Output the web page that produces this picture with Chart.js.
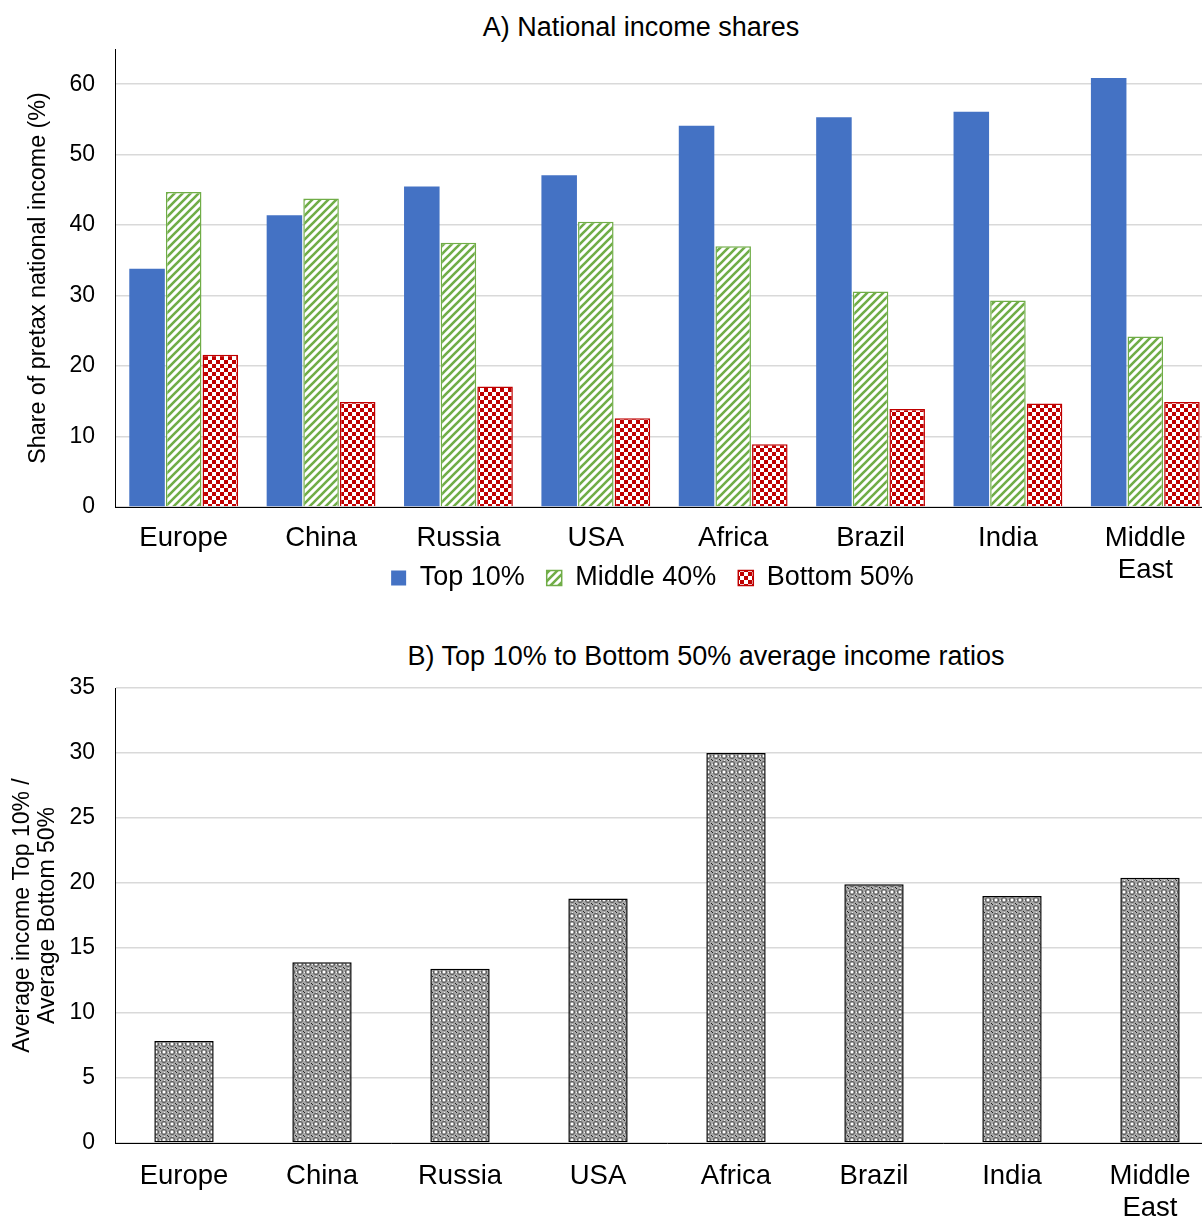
<!DOCTYPE html>
<html>
<head>
<meta charset="utf-8">
<script src="https://cdn.jsdelivr.net/npm/chart.js@4.4.0/dist/chart.umd.js"></script>
<style>
    html, body { margin: 0; padding: 0; background: #fff; }
    body { width: 1202px; height: 1217px; position: relative; overflow: hidden; font-family: "Liberation Sans", Arial, sans-serif; }
    .title { position: absolute; font-size: 27px; color: #000; white-space: nowrap; transform: translate(-50%, -50%); }
    canvas { position: absolute; left: 0; }
</style>
</head>
<body>
<div class="title" style="left:641px; top:27px;">A) National income shares</div>
<div class="title" style="left:706px; top:656px;">B) Top 10% to Bottom 50% average income ratios</div>
<!-- the original figure is cropped on the right, so the plots run a little past the page edge -->
<canvas id="chart-shares" width="1214" height="648" style="top:0;"></canvas>
<canvas id="chart-ratios" width="1219" height="617" style="top:600px;"></canvas>
<script>
// Data
const regions = ['Europe', 'China', 'Russia', 'USA', 'Africa', 'Brazil', 'India', ['Middle', 'East']];
const top10 = [33.8, 41.4, 45.5, 47.1, 54.1, 55.3, 56.1, 60.9];
const middle40 = [44.7, 43.8, 37.5, 40.5, 37.0, 30.6, 29.3, 24.2];
const bottom50 = [21.6, 14.9, 17.1, 12.6, 8.9, 13.9, 14.7, 14.9];
const ratios = [7.85, 13.9, 13.4, 18.8, 30.0, 19.9, 19.0, 20.4];

const FONT = '"Liberation Sans", Arial, sans-serif';
const GRID = '#d9d9d9';

// Pattern helpers (8px tiles, like Excel fill patterns)
function makePattern(draw) {
    const c = document.createElement('canvas');
    c.width = 8;
    c.height = 8;
    const g = c.getContext('2d');
    draw(g);
    return g.createPattern(c, 'repeat');
}

const stripeGreen = makePattern(g => {
    g.fillStyle = '#fff';
    g.fillRect(0, 0, 8, 8);
    g.strokeStyle = '#70ad47';
    g.lineWidth = 2.6;
    g.beginPath();
    g.moveTo(-2, 2); g.lineTo(2, -2);
    g.moveTo(0, 8); g.lineTo(8, 0);
    g.moveTo(6, 10); g.lineTo(10, 6);
    g.stroke();
});

const checkRed = makePattern(g => {
    g.fillStyle = '#fff';
    g.fillRect(0, 0, 8, 8);
    g.fillStyle = '#c00000';
    g.fillRect(0, 0, 4, 4);
    g.fillRect(4, 4, 4, 4);
});

const sphereGray = makePattern(g => {
    g.fillStyle = '#a8a8a8';
    g.fillRect(0, 0, 8, 8);
    g.strokeStyle = '#5a5a5a';
    g.lineWidth = 1;
    g.beginPath();
    g.arc(4, 4, 2.6, 0, Math.PI * 2);
    g.stroke();
    g.fillStyle = '#fff';
    g.fillRect(3, 3, 2, 2);
    g.fillStyle = '#222';
    g.fillRect(0, 0, 1, 1);
    g.fillRect(7, 7, 1, 1);
    g.fillStyle = '#eee';
    g.fillRect(0, 4, 1, 1);
    g.fillRect(4, 0, 1, 1);
});

// Legend sits up beside the second line of "Middle East", so move it after layout
const LEGEND_PAD = 22;
const LEGEND_FONT = 27;
const legendShift = {
    id: 'legendShift',
    afterLayout(chart) {
        const lg = chart.legend;
        if (!lg) return;
        const h = lg.bottom - lg.top;
        lg.top = 578 - LEGEND_PAD - LEGEND_FONT / 2;
        lg.bottom = lg.top + h;
        lg.left -= 12;
        lg.right -= 12;
    }
};

// Chart A: national income shares
new Chart(document.getElementById('chart-shares').getContext('2d'), {
    type: 'bar',
    data: {
        labels: regions,
        datasets: [
            {
                label: 'Top 10%',
                data: top10,
                backgroundColor: '#4472c4',
                borderWidth: 0
            },
            {
                label: 'Middle 40%',
                data: middle40,
                backgroundColor: stripeGreen,
                borderColor: '#70ad47',
                borderWidth: 1.5
            },
            {
                label: 'Bottom 50%',
                data: bottom50,
                backgroundColor: checkRed,
                borderColor: '#c00000',
                borderWidth: 1.5
            }
        ]
    },
    plugins: [legendShift],
    options: {
        responsive: false,
        animation: false,
        devicePixelRatio: 1,
        categoryPercentage: 0.8,
        barPercentage: 0.97,
        layout: {
            padding: { top: 49, right: 0, bottom: 0, left: 0 }
        },
        plugins: {
            legend: {
                position: 'bottom',
                fullSize: false,
                labels: {
                    font: { family: FONT, size: LEGEND_FONT },
                    color: '#000',
                    boxWidth: 15,
                    boxHeight: 15,
                    padding: LEGEND_PAD
                }
            },
            tooltip: { enabled: false }
        },
        scales: {
            x: {
                grid: { display: false },
                border: { display: true, color: '#000', width: 1 },
                ticks: {
                    font: { family: FONT, size: 27.5, lineHeight: 1.15 },
                    color: '#000',
                    padding: 8,
                    maxRotation: 0,
                    autoSkip: false
                },
                afterFit: function(scale) {
                    scale.height = 82;
                }
            },
            y: {
                min: 0,
                max: 65,
                grid: { color: GRID, lineWidth: 1.5, drawTicks: false },
                border: { display: true, color: '#000', width: 1 },
                ticks: {
                    stepSize: 10,
                    includeBounds: false,
                    font: { family: FONT, size: 23 },
                    color: '#000',
                    padding: 20
                },
                title: {
                    display: true,
                    text: 'Share of pretax national income (%)',
                    font: { family: FONT, size: 23.3 },
                    color: '#000',
                    padding: { top: 25, bottom: 0 }
                },
                afterFit: function(scale) {
                    scale.width = 115;
                }
            }
        }
    }
});

// Chart B: top 10% / bottom 50% ratios
new Chart(document.getElementById('chart-ratios').getContext('2d'), {
    type: 'bar',
    data: {
        labels: regions,
        datasets: [{
            label: 'Ratio',
            data: ratios,
            backgroundColor: sphereGray,
            borderColor: '#000',
            borderWidth: 1.5,
            borderSkipped: false
        }]
    },
    options: {
        responsive: false,
        animation: false,
        devicePixelRatio: 1,
        categoryPercentage: 1,
        barPercentage: 0.43,
        layout: {
            padding: { top: 88, right: 0, bottom: 0, left: 0 }
        },
        plugins: {
            legend: { display: false },
            tooltip: { enabled: false }
        },
        scales: {
            x: {
                grid: { display: false },
                border: { display: true, color: '#000', width: 1 },
                ticks: {
                    font: { family: FONT, size: 27.5, lineHeight: 1.15 },
                    color: '#000',
                    padding: 10,
                    maxRotation: 0,
                    autoSkip: false
                },
                afterFit: function(scale) {
                    scale.height = 74;
                }
            },
            y: {
                min: 0,
                max: 35,
                grid: { color: GRID, lineWidth: 1.5, drawTicks: false },
                border: { display: true, color: '#000', width: 1 },
                ticks: {
                    stepSize: 5,
                    font: { family: FONT, size: 23 },
                    color: '#000',
                    padding: 20
                },
                title: {
                    display: true,
                    text: ['Average income Top 10% /', 'Average Bottom 50%'],
                    font: { family: FONT, size: 23, lineHeight: 1.1 },
                    color: '#000',
                    padding: { top: 10, bottom: 0 }
                },
                afterFit: function(scale) {
                    scale.width = 115;
                }
            }
        }
    }
});
</script>
</body>
</html>
